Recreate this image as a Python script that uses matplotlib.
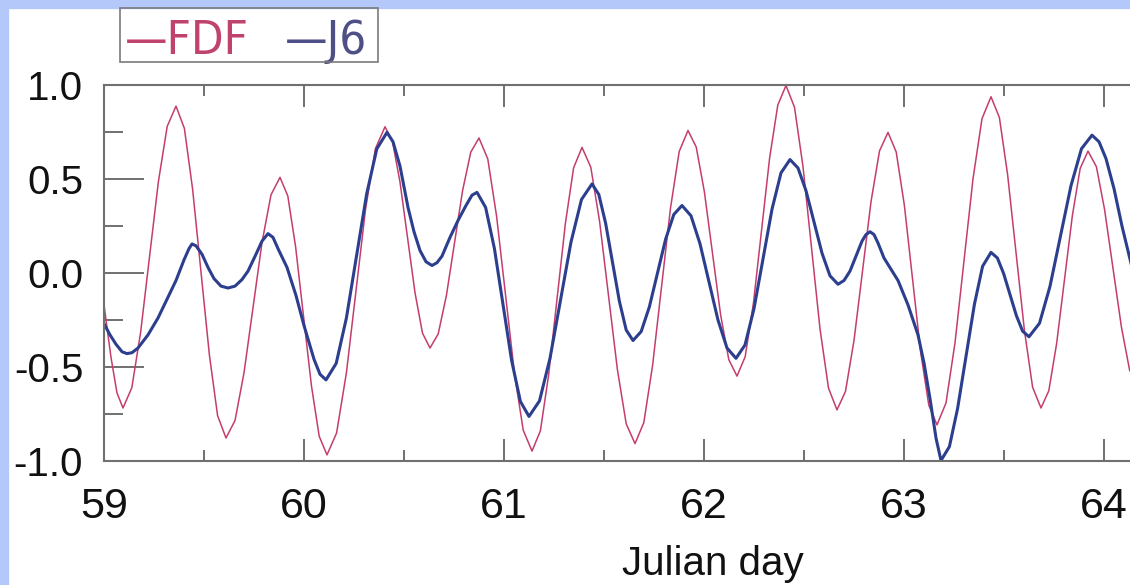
import matplotlib.pyplot as plt
from matplotlib.patches import Rectangle
from matplotlib.ticker import MultipleLocator

# FDF series (Julian day, normalised value)
fdf_day = [59.00, 59.035, 59.065, 59.095,
           59.139, 59.183, 59.2275, 59.272, 59.316, 59.36,
           59.402, 59.443, 59.485, 59.527, 59.568, 59.61,
           59.655, 59.70, 59.745, 59.79, 59.835, 59.88,
           59.919, 59.958, 59.9975, 60.037, 60.076, 60.115,
           60.163, 60.212, 60.26, 60.308, 60.357, 60.405,
           60.4425, 60.48, 60.5175, 60.555, 60.5925, 60.63,
           60.671, 60.712, 60.7525, 60.793, 60.834, 60.875,
           60.919, 60.963, 61.0075, 61.052, 61.096, 61.14,
           61.182, 61.223, 61.265, 61.307, 61.348, 61.39,
           61.434, 61.478, 61.5225, 61.567, 61.611, 61.655,
           61.699, 61.743, 61.7875, 61.832, 61.876, 61.92,
           61.961, 62.002, 62.0425, 62.083, 62.124, 62.165,
           62.206, 62.247, 62.2875, 62.328, 62.369, 62.41,
           62.4525, 62.495, 62.5375, 62.58, 62.6225, 62.665,
           62.7075, 62.75, 62.7925, 62.835, 62.8775, 62.92,
           62.961, 63.002, 63.0425, 63.083, 63.124, 63.165,
           63.21, 63.255, 63.30, 63.345, 63.39, 63.435,
           63.477, 63.518, 63.56, 63.602, 63.643, 63.685,
           63.724, 63.763, 63.8025, 63.842, 63.881, 63.92,
           63.962, 64.003, 64.045, 64.087, 64.128, 64.17]
fdf_val = [-0.17, -0.45, -0.64, -0.72,
           -0.612, -0.3175, 0.085, 0.4875, 0.782, 0.89,
           0.771, 0.4475, 0.005, -0.4375, -0.761, -0.88,
           -0.787, -0.5325, -0.185, 0.1625, 0.417, 0.51,
           0.411, 0.14, -0.23, -0.60, -0.871, -0.97,
           -0.853, -0.5325, -0.095, 0.3425, 0.663, 0.78,
           0.701, 0.485, 0.19, -0.105, -0.321, -0.40,
           -0.325, -0.12, 0.16, 0.44, 0.645, 0.72,
           0.608, 0.3025, -0.115, -0.5325, -0.838, -0.95,
           -0.8415, -0.545, -0.14, 0.265, 0.561, 0.67,
           0.564, 0.275, -0.12, -0.515, -0.804, -0.91,
           -0.798, -0.4925, -0.075, 0.3425, 0.648, 0.76,
           0.672, 0.4325, 0.105, -0.2225, -0.462, -0.55,
           -0.446, -0.1625, 0.225, 0.6125, 0.896, 1.00,
           0.884, 0.5675, 0.135, -0.2975, -0.614, -0.73,
           -0.631, -0.36, 0.01, 0.38, 0.651, 0.75,
           0.6455, 0.36, -0.03, -0.42, -0.705, -0.81,
           -0.693, -0.3725, 0.065, 0.5025, 0.823, 0.94,
           0.829, 0.525, 0.11, -0.305, -0.609, -0.72,
           -0.628, -0.3775, -0.035, 0.3075, 0.558, 0.65,
           0.567, 0.3375, 0.025, -0.2875, -0.518, -0.60]

# J6 series
j6_day = [59.00, 59.03, 59.06, 59.09, 59.115, 59.14, 59.17, 59.22, 59.27, 59.315,
          59.36, 59.40, 59.425, 59.44, 59.46, 59.49, 59.52, 59.55, 59.585, 59.62,
          59.655, 59.69, 59.72, 59.76, 59.79, 59.82, 59.845, 59.87, 59.915, 59.96,
          60.00, 60.05, 60.08, 60.11,
          60.161, 60.212, 60.2625, 60.313, 60.364, 60.415,
          60.445, 60.48, 60.52, 60.55, 60.58, 60.61, 60.64, 60.665, 60.69, 60.73,
          60.77, 60.81, 60.84, 60.865,
          60.908, 60.952, 60.995, 61.038, 61.082, 61.125,
          61.1775, 61.23, 61.2825, 61.335, 61.3875, 61.44,
          61.474, 61.508, 61.5425, 61.577, 61.611, 61.645,
          61.686, 61.727, 61.7675, 61.808, 61.849, 61.89,
          61.935, 61.98, 62.025, 62.07, 62.115, 62.16,
          62.205, 62.25, 62.295, 62.34, 62.385, 62.43,
          62.47, 62.51, 62.55, 62.59, 62.63, 62.67,
          62.70, 62.73, 62.76, 62.79, 62.81, 62.83,
          62.85, 62.87, 62.90, 62.935, 62.97, 63.02, 63.07, 63.10, 63.13, 63.16, 63.185,
          63.227, 63.268, 63.31, 63.352, 63.393, 63.435,
          63.467, 63.498, 63.53, 63.562, 63.593, 63.625,
          63.6775, 63.73, 63.7825, 63.835, 63.8875, 63.94,
          63.975, 64.01, 64.05, 64.09, 64.14]
j6_val = [-0.27, -0.33, -0.38, -0.42, -0.43, -0.425, -0.40, -0.33, -0.24, -0.14,
          -0.04, 0.07, 0.13, 0.155, 0.145, 0.10, 0.03, -0.03, -0.07, -0.08,
          -0.07, -0.035, 0.01, 0.10, 0.17, 0.21, 0.19, 0.13, 0.03, -0.12,
          -0.28, -0.46, -0.54, -0.57,
          -0.482, -0.24, 0.09, 0.42, 0.662, 0.75,
          0.70, 0.57, 0.35, 0.22, 0.12, 0.06, 0.04, 0.055, 0.09, 0.19,
          0.28, 0.36, 0.415, 0.43,
          0.35, 0.131, -0.1675, -0.466, -0.685, -0.765,
          -0.682, -0.455, -0.145, 0.165, 0.392, 0.475,
          0.419, 0.266, 0.0575, -0.151, -0.304, -0.36,
          -0.312, -0.18, 0.0, 0.18, 0.312, 0.36,
          0.305, 0.156, -0.0475, -0.251, -0.40, -0.455,
          -0.384, -0.19, 0.075, 0.34, 0.534, 0.605,
          0.56, 0.439, 0.2725, 0.106, -0.015, -0.06,
          -0.04, 0.01, 0.09, 0.17, 0.205, 0.22,
          0.205, 0.16, 0.08, 0.02, -0.04, -0.17, -0.33, -0.48, -0.67, -0.88, -1.0,
          -0.926, -0.7225, -0.445, -0.1675, 0.036, 0.11,
          0.08, -0.0025, -0.115, -0.2275, -0.31, -0.34,
          -0.268, -0.071, 0.1975, 0.466, 0.663, 0.735,
          0.70, 0.61, 0.45, 0.25, 0.03]

W, H = 1130, 585
fig = plt.figure(figsize=(W / 100, H / 100), dpi=100, facecolor='white')

# axes run on past the right edge (the original picture is cropped there)
ax = fig.add_axes([104 / W, 1 - 460.5 / H, 1200 / W, 375 / H])
ax.plot(fdf_day, fdf_val, color='#c43d6e', lw=1.1)
ax.plot(j6_day, j6_val, color='#2c3f8e', lw=2.2)

ax.set_xlim(59, 65)
ax.set_ylim(-1.0, 1.0)
ax.xaxis.set_major_locator(MultipleLocator(1))
ax.xaxis.set_minor_locator(MultipleLocator(0.5))
ax.yaxis.set_major_locator(MultipleLocator(0.5))
ax.yaxis.set_minor_locator(MultipleLocator(0.25))
ax.yaxis.set_major_formatter(plt.FormatStrFormatter('%.1f'))

for s in ax.spines.values():
    s.set_color('#707070')
    s.set_linewidth(1.5)
ax.spines['right'].set_visible(False)

ax.tick_params(axis='x', which='both', direction='in', top=True, bottom=True,
               color='#707070', width=1.4)
ax.tick_params(axis='x', which='major', length=16, pad=19, labelsize=31)
ax.tick_params(axis='x', which='minor', length=8)
ax.tick_params(axis='y', which='both', direction='in', left=True, right=False,
               color='#707070', width=1.4)
ax.tick_params(axis='y', which='major', length=29, pad=15, labelsize=29)
ax.tick_params(axis='y', which='minor', length=14)
for lab in ax.get_xticklabels() + ax.get_yticklabels():
    lab.set_family(['Liberation Sans', 'DejaVu Sans'])
    lab.set_color('#111111')

ax.set_xlabel('Julian day', fontsize=29, family=['Liberation Sans', 'DejaVu Sans'],
              color='#111111')
ax.xaxis.set_label_coords(0.507, -0.225)

# light blue frame on the left and top
fig.patches.append(Rectangle((0, 0), 8 / W, 1, transform=fig.transFigure,
                             color='#b4c8fa', zorder=5))
fig.patches.append(Rectangle((0, 1 - 8 / H), 1, 8 / H, transform=fig.transFigure,
                             color='#b4c8fa', zorder=5))

# legend box above the plot
fig.patches.append(Rectangle((120 / W, 1 - 62 / H), 258 / W, 54 / H, transform=fig.transFigure,
                             fill=False, edgecolor='#7a7a7a', lw=1.2, zorder=6))
legend_font = ['DejaVu Sans']
fig.text(125 / W, 1 - 54 / H, '\u2014FDF', fontsize=34, family=legend_font,
         stretch='condensed', weight='light', color='#c0426e', va='baseline')
fig.text(285 / W, 1 - 54 / H, '\u2014J6', fontsize=34, family=legend_font,
         stretch='condensed', weight='light', color='#4f4f88', va='baseline')

fig.savefig('out.png', dpi=100)
